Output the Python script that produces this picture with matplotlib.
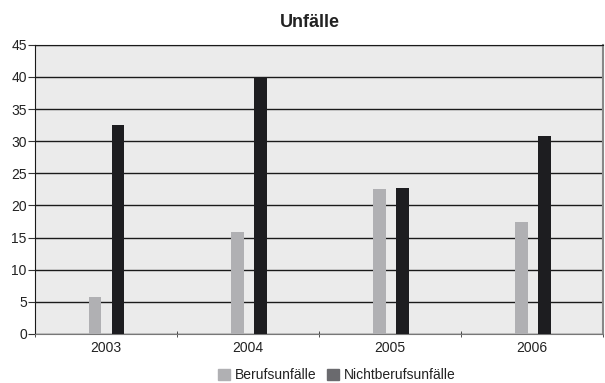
import matplotlib.pyplot as plt
import numpy as np
from matplotlib.patches import Patch

plt.rcParams['font.family'] = ['Liberation Sans', 'DejaVu Sans']

years = ['2003', '2004', '2005', '2006']
berufsunfaelle = [5.7, 15.8, 22.5, 17.5]
nichtberufsunfaelle = [32.5, 40.0, 22.7, 30.8]

fig = plt.figure(figsize=(6.05, 3.83), dpi=100)
ax = fig.add_axes([0.058, 0.128, 0.939, 0.755])
ax.set_facecolor('#ebebeb')

x = np.arange(len(years))
w = 0.085
ax.bar(x - 0.075, berufsunfaelle, w, color='#b0b0b3', zorder=3)
ax.bar(x + 0.087, nichtberufsunfaelle, w, color='#1d1d20', zorder=3)

ax.set_xlim(-0.5, len(years) - 0.5)
ax.set_ylim(0, 45)
ax.set_yticks(np.arange(0, 46, 5))
ax.set_xticks(x)
ax.set_xticklabels(years)
ax.set_xticks(np.arange(-0.5, len(years)), minor=True)
ax.tick_params(axis='x', which='major', length=0, pad=5, labelsize=10, labelcolor='#222222')
ax.tick_params(axis='x', which='minor', length=4, color='#333333', direction='inout')
ax.tick_params(axis='y', length=5, color='#333333', labelsize=10, pad=1, labelcolor='#222222')

ax.yaxis.grid(True, color='#1a1a1a', linewidth=1.0, zorder=1)
ax.set_axisbelow(True)

for side in ['top', 'left']:
    ax.spines[side].set_color('#1a1a1a')
ax.spines['bottom'].set_color('#777777')
ax.spines['right'].set_color('#888888')
ax.spines['right'].set_linewidth(1.5)

fig.text(0.512, 0.94, 'Unfälle', ha='center', va='center',
         fontsize=13, fontweight='bold', color='#222222')

handles = [Patch(color='#b0b0b3'), Patch(color='#6a6a6e')]
fig.legend(handles, ['Berufsunfälle', 'Nichtberufsunfälle'],
           loc='center', bbox_to_anchor=(0.557, 0.02), ncol=2,
           frameon=False, fontsize=10, handlelength=0.85, handleheight=0.85,
           handletextpad=0.35, columnspacing=0.8, labelcolor='#222222')

fig.savefig('out.png', dpi=100)
